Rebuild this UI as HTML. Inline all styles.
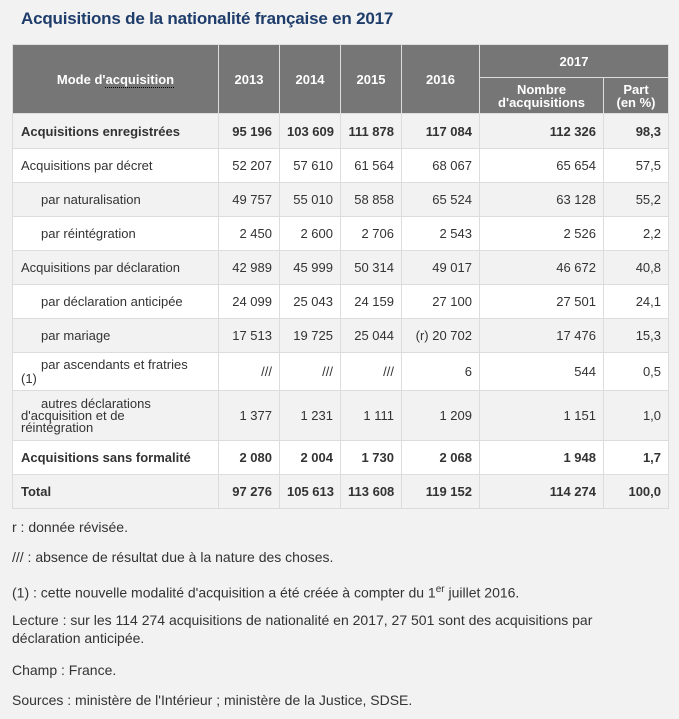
<!DOCTYPE html>
<html><head><meta charset="utf-8"><style>
html,body{margin:0;padding:0;background:#f2f2f2;width:679px;height:719px;overflow:hidden;font-family:"Liberation Sans",sans-serif;color:#333}
h1{position:absolute;left:21px;top:9px;margin:0;font-size:17px;font-weight:bold;color:#1f3d6b;letter-spacing:-0.2px}
table{position:absolute;left:12px;top:44px;width:656px;border-collapse:collapse;table-layout:fixed;font-size:13px}
td,th{border:1px solid #dcdcdc;padding:0 7px;text-align:right;white-space:nowrap}
th{background:#767676;color:#fff;text-align:center;font-weight:bold;border-color:#ddd;line-height:13px}
td.l{text-align:left;white-space:normal;padding-left:8px}
td.i{padding-left:28px}
tr.g td{background:#f2f2f2}
tr.w td{background:#fff}
tr.b td{font-weight:bold}
p{position:absolute;left:12px;margin:0;font-size:14px;line-height:18px;color:#333}
</style></head><body>
<h1>Acquisitions de la nationalité française en 2017</h1>
<table>
<colgroup><col style="width:206px"><col style="width:61px"><col style="width:61px"><col style="width:61px"><col style="width:78px"><col style="width:124px"><col style="width:65px"></colgroup>
<tr style="height:33px"><th rowspan="2">Mode d'<span style="border-bottom:1px dotted #000">acquisition</span></th><th rowspan="2">2013</th><th rowspan="2">2014</th><th rowspan="2">2015</th><th rowspan="2">2016</th><th colspan="2">2017</th></tr>
<tr style="height:36px"><th>Nombre<br>d'acquisitions</th><th>Part<br>(en %)</th></tr>
<tr class="g b" style="height:35px"><td class="l">Acquisitions enregistrées</td><td>95 196</td><td>103 609</td><td>111 878</td><td>117 084</td><td>112 326</td><td>98,3</td></tr>
<tr class="w" style="height:34px"><td class="l">Acquisitions par décret</td><td>52 207</td><td>57 610</td><td>61 564</td><td>68 067</td><td>65 654</td><td>57,5</td></tr>
<tr class="g" style="height:34px"><td class="l i">par naturalisation</td><td>49 757</td><td>55 010</td><td>58 858</td><td>65 524</td><td>63 128</td><td>55,2</td></tr>
<tr class="w" style="height:34px"><td class="l i">par réintégration</td><td>2 450</td><td>2 600</td><td>2 706</td><td>2 543</td><td>2 526</td><td>2,2</td></tr>
<tr class="g" style="height:34px"><td class="l">Acquisitions par déclaration</td><td>42 989</td><td>45 999</td><td>50 314</td><td>49 017</td><td>46 672</td><td>40,8</td></tr>
<tr class="w" style="height:34px"><td class="l i">par déclaration anticipée</td><td>24 099</td><td>25 043</td><td>24 159</td><td>27 100</td><td>27 501</td><td>24,1</td></tr>
<tr class="g" style="height:34px"><td class="l i">par mariage</td><td>17 513</td><td>19 725</td><td>25 044</td><td>(r) 20 702</td><td>17 476</td><td>15,3</td></tr>
<tr class="w" style="height:38px"><td class="l" style="line-height:14px"><span style="padding-left:20px">par ascendants et fratries</span><br>(1)</td><td>///</td><td>///</td><td>///</td><td>6</td><td>544</td><td>0,5</td></tr>
<tr class="g" style="height:50px"><td class="l" style="line-height:12px"><span style="padding-left:20px">autres déclarations</span><br>d'acquisition et de<br>réintégration</td><td>1 377</td><td>1 231</td><td>1 111</td><td>1 209</td><td>1 151</td><td>1,0</td></tr>
<tr class="w b" style="height:34px"><td class="l">Acquisitions sans formalité</td><td>2 080</td><td>2 004</td><td>1 730</td><td>2 068</td><td>1 948</td><td>1,7</td></tr>
<tr class="g b" style="height:34px"><td class="l">Total</td><td>97 276</td><td>105 613</td><td>113 608</td><td>119 152</td><td>114 274</td><td>100,0</td></tr>
</table>
<p style="top:518px">r : donnée révisée.</p>
<p style="top:548px">/// : absence de résultat due à la nature des choses.</p>
<p style="top:581px">(1) : cette nouvelle modalité d'acquisition a été créée à compter du 1<sup style="font-size:10px">er</sup> juillet 2016.</p>
<p style="top:611px;width:640px">Lecture : sur les 114 274 acquisitions de nationalité en 2017, 27 501 sont des acquisitions par déclaration anticipée.</p>
<p style="top:661px">Champ : France.</p>
<p style="top:691px">Sources : ministère de l'Intérieur ; ministère de la Justice, SDSE.</p>
</body></html>
